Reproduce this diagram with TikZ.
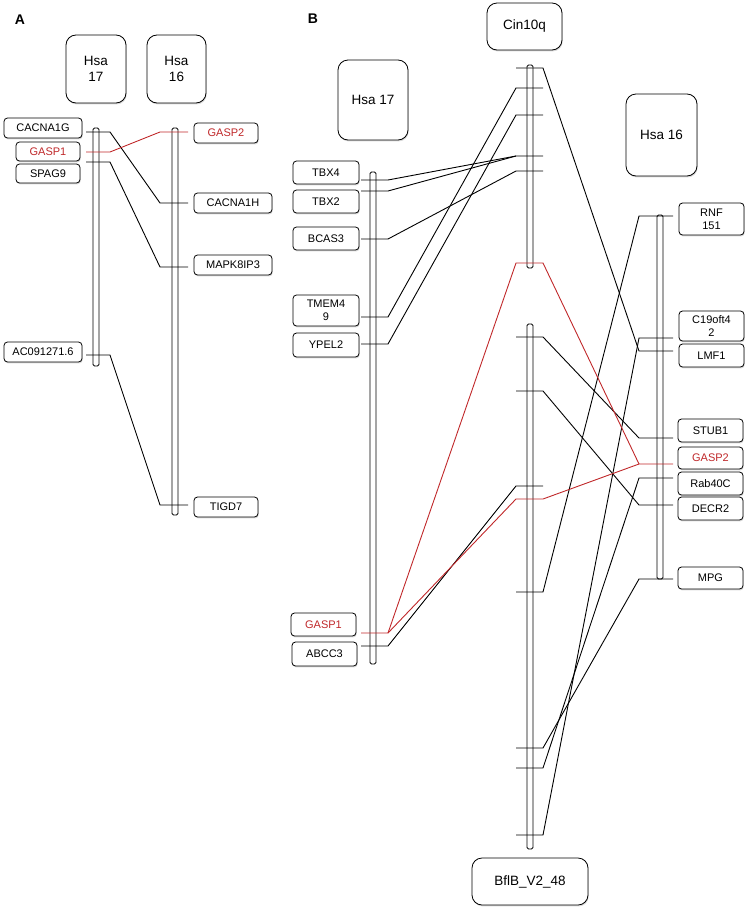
\documentclass[tikz,border=0pt]{standalone}
\usepackage{fontspec}
\setmainfont{Liberation Sans}
\usetikzlibrary{positioning, shadows}
\definecolor{GaspRed}{HTML}{C0282A}

\begin{document}
\begin{tikzpicture}[x=1pt, y=-1pt, line width=0.9pt,
    gene/.style={draw, fill=white, rounded corners=3.5pt, inner sep=0pt, align=center,
      line width=0.8pt, font=\fontsize{11}{13}\selectfont,
      drop shadow={shadow xshift=0.7pt, shadow yshift=-1.4pt, opacity=0.3}},
    hsa/.style={draw, fill=white, rounded corners=10pt, inner sep=0pt, align=center,
      line width=0.8pt, font=\fontsize{13.5}{16}\selectfont,
      drop shadow={shadow xshift=0.7pt, shadow yshift=-1.4pt, opacity=0.3}},
    chrom/.style={draw, fill=white, rounded corners=1.5pt, line width=0.8pt},
    gasp/.style={draw=GaspRed, line width=0.9pt},
    panel/.style={font=\bfseries\fontsize{14}{16}\selectfont}]
  \useasboundingbox (0,0) rectangle (750,913);

  % --- Panel A: Hsa 17 vs Hsa 16 ---
  \node[panel] (labA) at (20,20) {A};
  \node[hsa, minimum width=60pt, minimum height=68pt] (hsaA17) at (96,69) {Hsa\\17};
  \node[hsa, minimum width=59pt, minimum height=68pt] (hsaA16) at (176.5,69) {Hsa\\16};
  \draw[chrom] (93,128) rectangle (99,366);
  \draw[chrom] (172,128) rectangle (178,515);
  \node[gene, minimum width=78pt, minimum height=20pt] (cacna1g) at (43,128) {CACNA1G};
  \node[gene, minimum width=64pt, minimum height=19pt, text=GaspRed] (gaspA1) at (48,151.5) {GASP1};
  \node[gene, minimum width=64pt, minimum height=19pt] (spag9) at (48,173.5) {SPAG9};
  \node[gene, minimum width=78pt, minimum height=20pt] (ac091271) at (43,352) {AC091271.6};
  \node[gene, minimum width=64pt, minimum height=20pt, text=GaspRed] (gaspA2) at (226,133) {GASP2};
  \node[gene, minimum width=78pt, minimum height=20pt] (cacna1h) at (233,203) {CACNA1H};
  \node[gene, minimum width=78pt, minimum height=20pt] (mapk8ip3) at (233,265) {MAPK8IP3};
  \node[gene, minimum width=64pt, minimum height=20pt] (tigd7) at (226,507) {TIGD7};
  \foreach \n/\y in {cacna1g/132, gaspA1/152, spag9/162, ac091271/355}
    \coordinate (\n-o) at (86,\y) coordinate (\n-i) at (110,\y);
  \foreach \n/\y in {gaspA2/132, cacna1h/203, mapk8ip3/267, tigd7/505}
    \coordinate (\n-o) at (188,\y) coordinate (\n-i) at (160,\y);
  \draw (cacna1g-o) -- (cacna1g-i) -- (cacna1h-i) -- (cacna1h-o);
  \draw (spag9-o) -- (spag9-i) -- (mapk8ip3-i) -- (mapk8ip3-o);
  \draw (ac091271-o) -- (ac091271-i) -- (tigd7-i) -- (tigd7-o);
  \draw[gasp] (gaspA1-o) -- (gaspA1-i) -- (gaspA2-i) -- (gaspA2-o);

  % --- Panel B: Hsa 17 / Cin10q / Hsa 16 ---
  \node[panel] (labB) at (313,19) {B};
  \node[hsa, minimum width=75pt, minimum height=47pt] (cin10q) at (524.5,26.5) {Cin10q};
  \node[hsa, minimum width=70pt, minimum height=80pt] (hsaB17) at (373,100) {Hsa 17};
  \node[hsa, minimum width=71pt, minimum height=82pt] (hsaB16) at (661.5,135) {Hsa 16};
  \node[hsa, minimum width=116pt, minimum height=47pt] (bflb) at (530,881.5) {BflB\_V2\_48};
  \draw[chrom] (370,172) rectangle (376,664);
  \draw[chrom] (527,65) rectangle (533,268);
  \draw[chrom] (527,324) rectangle (533,849);
  \draw[chrom] (657,215) rectangle (663,579);
  % genes on Hsa 17
  \node[gene, minimum width=66pt, minimum height=23pt] (tbx4) at (326,172.5) {TBX4};
  \node[gene, minimum width=66pt, minimum height=23pt] (tbx2) at (326,201.5) {TBX2};
  \node[gene, minimum width=66pt, minimum height=23pt] (bcas3) at (326,238.5) {BCAS3};
  \node[gene, minimum width=66pt, minimum height=31pt] (tmem49) at (326,310.5) {TMEM4\\9};
  \node[gene, minimum width=66pt, minimum height=24pt] (ypel2) at (326,345) {YPEL2};
  \node[gene, minimum width=65pt, minimum height=23pt, text=GaspRed] (gaspB1) at (323.5,624.5) {GASP1};
  \node[gene, minimum width=65pt, minimum height=24pt] (abcc3) at (324.5,654) {ABCC3};
  % genes on Hsa 16
  \node[gene, minimum width=65pt, minimum height=32pt] (rnf151) at (711.5,219) {RNF\\151};
  \node[gene, minimum width=65pt, minimum height=30pt] (c19oft42) at (711.5,326) {C19oft4\\2};
  \node[gene, minimum width=65pt, minimum height=23pt] (lmf1) at (711.5,355.5) {LMF1};
  \node[gene, minimum width=65pt, minimum height=23pt] (stub1) at (710.5,430.5) {STUB1};
  \node[gene, minimum width=65pt, minimum height=22pt, text=GaspRed] (gaspB2) at (710.5,458) {GASP2};
  \node[gene, minimum width=65pt, minimum height=23pt] (rab40c) at (710.5,483.5) {Rab40C};
  \node[gene, minimum width=65pt, minimum height=23pt] (decr2) at (710.5,508.5) {DECR2};
  \node[gene, minimum width=65pt, minimum height=22pt] (mpg) at (710.5,578) {MPG};
  % tick ends
  \foreach \n/\y in {tbx4/180, tbx2/191, bcas3/239, tmem49/317, ypel2/344, gaspB1/633, abcc3/646}
    \coordinate (\n-o) at (361,\y) coordinate (\n-i) at (388,\y);
  \foreach \n/\y in {rnf151/216, c19oft42/338, lmf1/351, stub1/438, gaspB2/464, rab40c/478, decr2/505, mpg/579}
    \coordinate (\n-o) at (673,\y) coordinate (\n-i) at (639,\y);
  \foreach \y in {68, 88, 115, 156, 171, 263, 337, 391, 486, 499, 592, 748, 768, 835}
    \coordinate (cin\y-l) at (516,\y) coordinate (cin\y-r) at (543,\y);
  % Hsa 17 -> Cin10q
  \draw (tbx4-o) -- (tbx4-i) -- (cin156-l) -- (cin156-r);
  \draw (tbx2-o) -- (tbx2-i) -- (cin156-l);
  \draw (bcas3-o) -- (bcas3-i) -- (cin171-l) -- (cin171-r);
  \draw (tmem49-o) -- (tmem49-i) -- (cin88-l) -- (cin88-r);
  \draw (ypel2-o) -- (ypel2-i) -- (cin115-l) -- (cin115-r);
  \draw (abcc3-o) -- (abcc3-i) -- (cin486-l) -- (cin486-r);
  % Cin10q -> Hsa 16
  \draw (cin68-l) -- (cin68-r) -- (lmf1-i) -- (lmf1-o);
  \draw (cin337-l) -- (cin337-r) -- (stub1-i) -- (stub1-o);
  \draw (cin391-l) -- (cin391-r) -- (decr2-i) -- (decr2-o);
  \draw (cin592-l) -- (cin592-r) -- (rnf151-i) -- (rnf151-o);
  \draw (cin748-l) -- (cin748-r) -- (mpg-i) -- (mpg-o);
  \draw (cin768-l) -- (cin768-r) -- (rab40c-i) -- (rab40c-o);
  \draw (cin835-l) -- (cin835-r) -- (c19oft42-i) -- (c19oft42-o);
  % GASP1 -> GASP2
  \draw[gasp] (gaspB1-o) -- (gaspB1-i) -- (cin263-l) -- (cin263-r) -- (gaspB2-i) -- (gaspB2-o);
  \draw[gasp] (gaspB1-i) -- (cin499-l) -- (cin499-r) -- (gaspB2-i);
\end{tikzpicture}
\end{document}
